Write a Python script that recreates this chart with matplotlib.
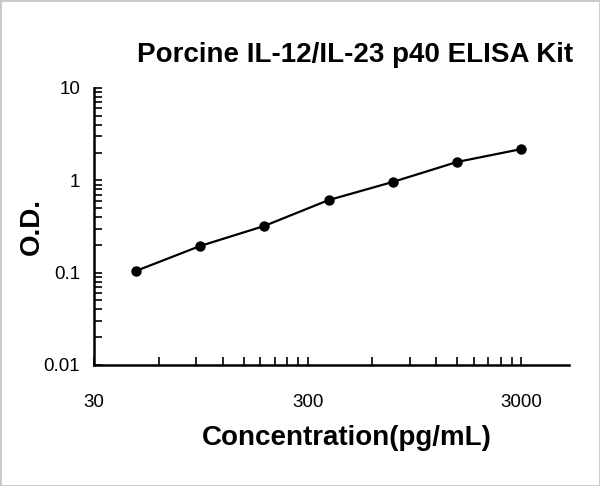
import matplotlib
matplotlib.use("Agg")
import matplotlib.pyplot as plt
from matplotlib.ticker import FixedLocator, FixedFormatter, LogLocator, NullFormatter

# standard curve points (pg/mL vs O.D.)
conc = [46.875, 93.75, 187.5, 375, 750, 1500, 3000]
od = [0.104, 0.194, 0.32, 0.61, 0.96, 1.58, 2.18]

x_ticks = [30, 300, 3000]
x_labels = ["30", "300", "3000"]
y_ticks = [0.01, 0.1, 1, 10]
y_labels = ["0.01", "0.1", "1", "10"]

plt.rcParams['font.family'] = ['Liberation Sans', 'DejaVu Sans']

fig = plt.figure(figsize=(6, 4.86), dpi=100)
ax = fig.add_axes([0.157, 0.249, 0.791, 0.570])

ax.plot(conc, od, color="black", lw=1.6)
ax.plot(conc, od, "o", color="black", ms=6.5)

ax.set_xscale("log")
ax.set_yscale("log")
ax.set_xlim(30, 5000)
ax.set_ylim(0.01, 10)

ax.xaxis.set_major_locator(FixedLocator(x_ticks))
ax.xaxis.set_major_formatter(FixedFormatter(x_labels))
# excel-style minor ticks at multiples of 30
minor_x = [30 * k for k in range(2, 10)] + [300 * k for k in range(2, 10)] + [3000]
ax.xaxis.set_minor_locator(FixedLocator(minor_x))
ax.xaxis.set_minor_formatter(NullFormatter())

ax.yaxis.set_major_locator(FixedLocator(y_ticks))
ax.yaxis.set_major_formatter(FixedFormatter(y_labels))
ax.yaxis.set_minor_locator(LogLocator(base=10, subs=range(2, 10)))
ax.yaxis.set_minor_formatter(NullFormatter())

for s in ["top", "right"]:
    ax.spines[s].set_visible(False)
for s in ["left", "bottom"]:
    ax.spines[s].set_linewidth(1.8)

ax.tick_params(which="both", direction="in", width=1.2, length=6, labelsize=13.5, colors="black")
ax.tick_params(axis="x", pad=21)
ax.tick_params(axis="y", pad=10)

fig.text(0.578, 0.099, "Concentration(pg/mL)", fontsize=20, fontweight="bold",
         ha="center", va="center")
fig.text(0.053, 0.533, "O.D.", fontsize=20, fontweight="bold", rotation=90,
         ha="center", va="center")
fig.text(0.592, 0.887, "Porcine IL-12/IL-23 p40 ELISA Kit", fontsize=20,
         fontweight="bold", ha="center", va="center")

# thin grey frame like the original image border
fig.patches.append(plt.Rectangle((0, 0), 1, 1, transform=fig.transFigure,
                                 fill=False, edgecolor="#c8c8c8", lw=2))

fig.savefig("out.png", dpi=100)
